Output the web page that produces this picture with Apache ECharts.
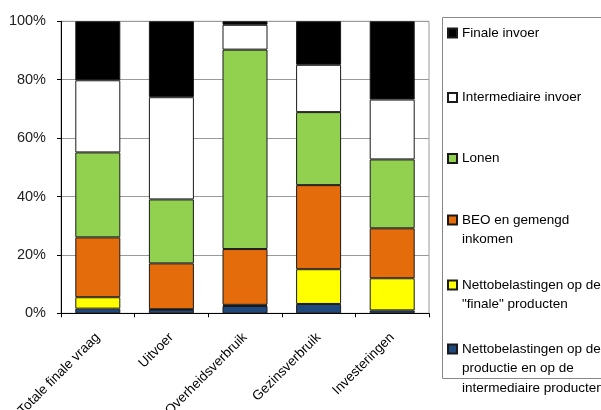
<!DOCTYPE html>
<html>
<head>
<meta charset="utf-8">
<script src="https://cdn.jsdelivr.net/npm/echarts@6/dist/echarts.min.js"></script>
<style>
  html, body { margin: 0; padding: 0; background: #fff; }
  #chart { width: 601px; height: 410px; }
</style>
</head>
<body>
<div id="chart"></div>
<script>
// Categories of final demand
const categories = ['Totale finale vraag', 'Uitvoer', 'Overheidsverbruik', 'Gezinsverbruik', 'Investeringen'];

// Shares (%) per component, stacked from the bottom up
const nettoProductie = [1.6, 1.2, 2.5, 3.2, 1.0];
const nettoFinale    = [3.9, 0.2, 0.4, 11.9, 11.0];
const beo            = [20.5, 15.7, 19.1, 28.8, 17.1];
const lonen          = [29.1, 21.9, 68.3, 25.0, 23.6];
const intermediair   = [24.7, 35.0, 8.5, 16.2, 20.5];
const finaleInvoer   = [20.2, 26.0, 1.2, 14.9, 26.8];

// Y axis ticks
const yTicks = [0, 20, 40, 60, 80, 100];

const FONT = '"Liberation Sans", Arial, sans-serif';

const seriesDefs = [
  { name: 'Nettobelastingen op de productie en op de intermediaire producten', data: nettoProductie, color: '#1F497D',
    label: '\n\nNettobelastingen op de\nproductie en op de\nintermediaire producten', lines: 5, center: 349 },
  { name: 'Nettobelastingen op de "finale" producten', data: nettoFinale, color: '#FFFF00',
    label: '\nNettobelastingen op de\n"finale" producten', lines: 3, center: 285 },
  { name: 'BEO en gemengd inkomen', data: beo, color: '#E46C0A',
    label: '\nBEO en gemengd\ninkomen', lines: 3, center: 220 },
  { name: 'Lonen', data: lonen, color: '#92D050', label: 'Lonen', lines: 1, center: 158.5 },
  { name: 'Intermediaire invoer', data: intermediair, color: '#FFFFFF', label: 'Intermediaire invoer', lines: 1, center: 97.5 },
  { name: 'Finale invoer', data: finaleInvoer, color: '#000000', label: 'Finale invoer', lines: 1, center: 33 }
];

const LH = 19.5;

const legends = seriesDefs.map(s => ({
  data: [{ name: s.name, icon: 'rect' }],
  orient: 'vertical',
  left: 447,
  top: s.center - s.lines * LH / 2,
  padding: 0,
  itemWidth: 9,
  itemHeight: 9,
  selectedMode: false,
  formatter: () => s.label,
  textStyle: { fontFamily: FONT, fontSize: 13.5, lineHeight: LH, color: '#000' }
}));

const series = seriesDefs.map(s => ({
  name: s.name,
  type: 'bar',
  stack: 'total',
  data: s.data,
  barWidth: 45,
  itemStyle: { color: s.color, borderColor: '#1a1a1a', borderWidth: 1 },
  emphasis: { disabled: true }
}));

const chart = echarts.init(document.getElementById('chart'), null, { renderer: 'canvas' });
chart.setOption({
  animation: false,
  backgroundColor: '#fff',
  grid: {
    left: 61, right: 172, top: 21.3, bottom: 96.7,
    containLabel: false, outerBoundsMode: 'none',
    show: true, borderColor: '#999', borderWidth: 1
  },
  legend: legends,
  graphic: [{
    type: 'rect',
    shape: { x: 442.5, y: 17.5, width: 170, height: 361 },
    style: { fill: 'none', stroke: '#888', lineWidth: 1 },
    z: -1
  }],
  xAxis: {
    type: 'category',
    data: categories,
    axisLine: { lineStyle: { color: '#000', width: 1 } },
    axisTick: { show: true, length: 4, lineStyle: { color: '#000' } },
    axisLabel: { rotate: 45, margin: 22, interval: 0, fontFamily: FONT, fontSize: 13.5, color: '#000' }
  },
  yAxis: {
    type: 'value',
    min: yTicks[0],
    max: yTicks[yTicks.length - 1],
    interval: 20,
    axisLine: { show: true, lineStyle: { color: '#000', width: 1 } },
    axisTick: { show: true, length: 4, lineStyle: { color: '#000' } },
    splitLine: { lineStyle: { color: '#999', width: 1 } },
    axisLabel: { formatter: '{value}%', margin: 15, fontFamily: FONT, fontSize: 14.5, color: '#222' }
  },
  series: series
});
</script>
</body>
</html>
